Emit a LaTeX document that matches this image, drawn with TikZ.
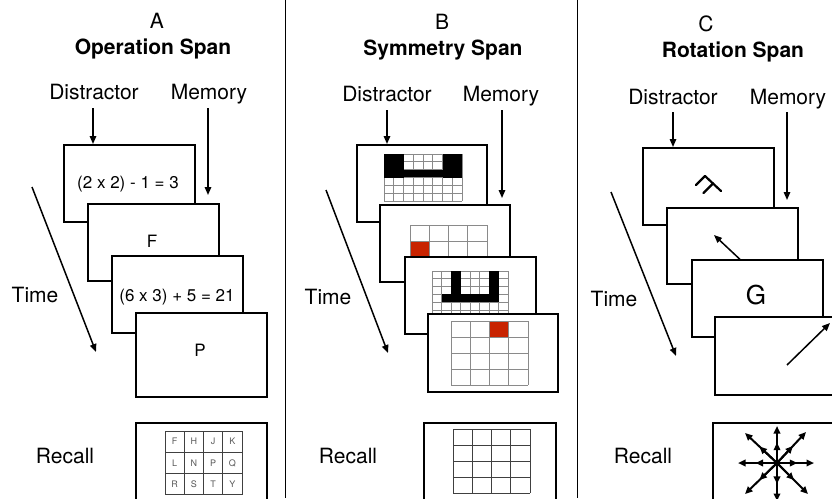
\documentclass[tikz,border=0pt]{standalone}
\usepackage{fontspec}
\setmainfont{TeX Gyre Heros}
\usetikzlibrary{arrows.meta}
\definecolor{redcell}{HTML}{C82300}
\definecolor{gridgray}{HTML}{8A8A8A}
\tikzset{
  lbl/.style={font=\fontsize{21}{24}\selectfont, anchor=base, inner sep=0pt},
  ttl/.style={font=\fontsize{21}{24}\selectfont\bfseries, anchor=base, inner sep=0pt},
  ftxt/.style={font=\fontsize{17}{20}\selectfont, anchor=base, inner sep=0pt},
  frame/.style={draw, fill=white, line width=1.6pt, anchor=north west, inner sep=0pt, minimum width=131pt, minimum height=77pt},
  arr/.style={line width=1.5pt, -{Triangle[length=8pt,width=6.5pt]}},
  sarr/.style={line width=2pt, -{Triangle[length=7.5pt,width=6.5pt]}},
  gl/.style={draw=gridgray, line width=0.8pt},
  gld/.style={draw=black!75, line width=1pt},
  divider/.style={line width=1pt},
  rletter/.style={font=\fontsize{9}{10}\selectfont, text=black!65, inner sep=0pt},
  glyph/.style={line width=2.2pt, line cap=round, line join=round}
}
\begin{document}
\begin{tikzpicture}[x=1pt,y=-1pt]
\useasboundingbox (0,0) rectangle (832,498);
\clip (0,0) rectangle (832,498);
\fill[white] (0,0) rectangle (832,498);

% dividers
\coordinate (d1t) at (285,0); \coordinate (d1b) at (285,498);
\coordinate (d2t) at (577,0); \coordinate (d2b) at (577,498);
\draw[divider] (d1t) -- (d1b);
\draw[divider] (d2t) -- (d2b);

%%%%%%%%%%%%%%%% PANEL A
\node[lbl] (hA) at (157,28) {A};
\node[ttl] (tA) at (153,54) {Operation Span};
\node[lbl] (dA) at (94,99) {Distractor};
\node[lbl] (mA) at (209,99) {Memory};
\node[lbl] (timeA) at (35,302) {Time};
\node[lbl] (recA) at (65,463) {Recall};

\node[frame] (fA1) at (63,144) {};
\node[ftxt] (xA1) at (128,188) {(2 x 2) - 1 = 3};
\node[frame] (fA2) at (87,203) {};
\node[ftxt] (xA2) at (152,247) {F};
\node[frame] (fA3) at (111,255) {};
\node[ftxt] (xA3) at (177,301) {(6 x 3) + 5 = 21};
\node[frame, minimum height=84pt] (fA4) at (135,312) {};
\node[ftxt] (xA4) at (200,356) {P};

\coordinate (dAs) at (93,108);
\draw[arr] (dAs) -- (dAs |- fA1.north);
\coordinate (mAs) at (208,108); \coordinate (mAe) at (208,195);
\draw[arr] (mAs) -- (mAe);
\coordinate (tAs) at (32,187); \coordinate (tAe) at (96,352);
\draw[arr] (tAs) -- (tAe);

% recall A
\node[frame, minimum height=90pt] (rA) at (135,422) {};
\foreach \i in {0,...,4} \draw[gld] (165+\i*19.25,431) -- ++(0,64);
\foreach \j in {0,...,3} \draw[gld] (165,431+\j*21.33) -- ++(77,0);
\foreach \c/\r/\t in {0/0/F,1/0/H,2/0/J,3/0/K,0/1/L,1/1/N,2/1/P,3/1/Q,0/2/R,1/2/S,2/2/T,3/2/Y}
  \node[rletter] (lA\c\r) at (165+\c*19.25+9.6,431+\r*21.33+10.7) {\t};

%%%%%%%%%%%%%%%% PANEL B
\node[lbl] (hB) at (442,29) {B};
\node[ttl] (tB) at (443,55) {Symmetry Span};
\node[lbl] (dB) at (387,101) {Distractor};
\node[lbl] (mB) at (501,101) {Memory};
\node[lbl] (timeB) at (328,304) {Time};
\node[lbl] (recB) at (348,463) {Recall};

\node[frame, minimum width=130pt] (fB1) at (356,144) {};
\foreach \i in {0,...,8} \draw[gl] (384+\i*9.75,154) -- ++(0,47);
\foreach \j in {0,...,6} \draw[gl] (384,154+\j*7.83) -- ++(78,0);
\fill (384,154) rectangle ++(19.5,23.5);
\fill (384+6*9.75,154) rectangle ++(19.5,23.5);
\fill (384,154+2*7.83) rectangle ++(78,7.83);

\node[frame, minimum width=130pt] (fB2) at (379,204) {};
\fill[redcell] (410,241) rectangle ++(19.25,16);
\foreach \i in {0,...,4} \draw[gl] (410+\i*19.25,225) -- ++(0,64);
\foreach \j in {0,...,4} \draw[gl] (410,225+\j*16) -- ++(77,0);

\node[frame] (fB3) at (404,256) {};
\foreach \i in {0,...,8} \draw[gl] (432+\i*9.5,271) -- ++(0,47);
\foreach \j in {0,...,6} \draw[gl] (432,271+\j*7.83) -- ++(76,0);
\fill (432+2*9.5,271) rectangle ++(9.5,31.3);
\fill (432+6*9.5,271) rectangle ++(9.5,31.3);
\fill (432+1*9.5,271+3*7.83) rectangle ++(57,7.83);

\node[frame, minimum width=130pt, minimum height=78pt] (fB4) at (427,313) {};
\fill[redcell] (451+2*19.25,321) rectangle ++(19.25,16);
\foreach \i in {0,...,4} \draw[gl] (451+\i*19.25,321) -- ++(0,64);
\foreach \j in {0,...,4} \draw[gl] (451,321+\j*16) -- ++(77,0);

\coordinate (dBs) at (387,110);
\draw[arr] (dBs) -- (dBs |- fB1.north);
\coordinate (mBs) at (502,110); \coordinate (mBe) at (502,198);
\draw[arr] (mBs) -- (mBe);
\coordinate (tBs) at (326,190); \coordinate (tBe) at (388,353);
\draw[arr] (tBs) -- (tBe);

% recall B
\node[frame, minimum width=132pt, minimum height=90pt] (rB) at (423,422) {};
\foreach \i in {0,...,4} \draw[gld] (453+\i*19.25,429) -- ++(0,64);
\foreach \j in {0,...,4} \draw[gld] (453,429+\j*16) -- ++(77,0);

%%%%%%%%%%%%%%%% PANEL C
\node[lbl] (hC) at (706,31) {C};
\node[ttl] (tC) at (733,57) {Rotation Span};
\node[lbl] (dC) at (673,104) {Distractor};
\node[lbl] (mC) at (788,104) {Memory};
\node[lbl] (timeC) at (614,306) {Time};
\node[lbl] (recC) at (643,463) {Recall};

\node[frame] (fC1) at (642,147) {};
% mirrored, rotated F
\coordinate (Fa) at (705,176); \coordinate (Fb) at (721,191);
\coordinate (Fc) at (696,185); \coordinate (Fm) at (713,183.5); \coordinate (Fd) at (703.5,193);
\draw[glyph] (Fc) -- (Fa) -- (Fb);
\draw[glyph] (Fm) -- (Fd);

\node[frame, minimum width=131pt, minimum height=76pt] (fC2) at (666,207) {};
\coordinate (aC2s) at (746,265); \coordinate (aC2e) at (714,235);
\draw[arr] (aC2s) -- (aC2e);

\node[frame] (fC3) at (691,259) {};
\node[font=\fontsize{26}{30}\selectfont, anchor=base, inner sep=0pt] (gC3) at (756,304) {G};

\node[frame, minimum height=78pt] (fC4) at (714,316) {};
\coordinate (aC4s) at (787,365); \coordinate (aC4e) at (830,323);
\draw[arr] (aC4s) -- (aC4e);

\coordinate (dCs) at (673,112);
\draw[arr] (dCs) -- (dCs |- fC1.north);
\coordinate (mCs) at (787,112); \coordinate (mCe) at (787,200);
\draw[arr] (mCs) -- (mCe);
\coordinate (tCs) at (611,192); \coordinate (tCe) at (676,356);
\draw[arr] (tCs) -- (tCe);

% recall C
\node[frame, minimum width=132pt, minimum height=90pt] (rC) at (712,422) {};
\coordinate (sc) at (777,463);
\foreach \dx/\dy in {-39/0,37/0,0/-37,0/38,-32/-30,29/-31,-32/31,31/31}{
  \draw[sarr] (sc) -- ++(\dx,\dy);
  \draw[sarr] (sc) -- ++(0.55*\dx,0.55*\dy);
}
\end{tikzpicture}
\end{document}
